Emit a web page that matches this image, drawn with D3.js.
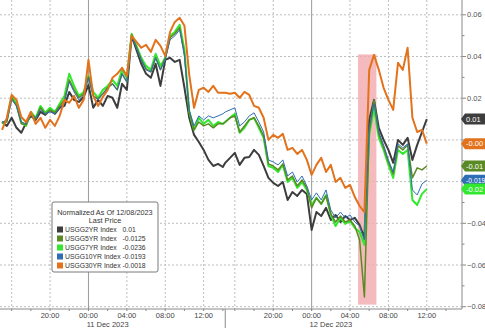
<!DOCTYPE html>
<html>
<head>
<meta charset="utf-8">
<script src="https://cdn.jsdelivr.net/npm/d3@7"></script>
<style>
  body { margin: 0; background: #fff; }
  svg { display: block; font-family: "Liberation Sans", Arial, sans-serif; }
</style>
</head>
<body>
<script>
// two trading sessions, 30 minute bars, the break between them is squeezed out
const sessions = [
  ['2023-12-10T15:00', '2023-12-11T14:00'],
  ['2023-12-11T15:00', '2023-12-12T12:00']
];
const gap = ['2023-12-11T14:15', '2023-12-11T15:00'];
const view = ['2023-12-10T14:47', '2023-12-12T15:40'];

const usgg2yr = [
  0.0086, 0.0067, 0.0106, 0.0058, 0.0034, 0.0082, 0.0115, 0.0096, 0.0134, 0.0120,
  0.0144, 0.0125, 0.0154, 0.0163, 0.0230, 0.0192, 0.0182, 0.0206, 0.0264, 0.0154,
  0.0192, 0.0163, 0.0211, 0.0202, 0.0154, 0.0269, 0.0240, 0.0499, 0.0432, 0.0365,
  0.0317, 0.0298, 0.0365, 0.0259, 0.0384, 0.0394, 0.0374, 0.0384, 0.0250, 0.0106,
  0.0024, -0.0010, -0.0048, -0.0096, -0.0125, -0.0115, -0.0130,
  -0.0110, -0.0086, -0.0062, -0.0120, -0.0086, -0.0082, -0.0048, -0.0072, -0.0125, -0.0182,
  -0.0206, -0.0221, -0.0202, -0.0288, -0.0250, -0.0269, -0.0240, -0.0259, -0.0432, -0.0346,
  -0.0365, -0.0326, -0.0384, -0.0360, -0.0394, -0.0365, -0.0384, -0.0374, -0.0408, -0.0470,
  0.0096, 0.0192, 0.0058, 0.0000, -0.0048, -0.0110, 0.0000, -0.0024, 0.0010, -0.0096,
  -0.0024, 0.0038, 0.0100
];
const usgg5yr = [
  0.0082, 0.0086, 0.0202, 0.0163, 0.0077, 0.0072, 0.0125, 0.0101, 0.0154, 0.0125,
  0.0144, 0.0130, 0.0163, 0.0192, 0.0288, 0.0240, 0.0202, 0.0221, 0.0302, 0.0211,
  0.0197, 0.0221, 0.0250, 0.0269, 0.0240, 0.0317, 0.0278, 0.0504, 0.0446, 0.0384,
  0.0341, 0.0326, 0.0394, 0.0336, 0.0394, 0.0490, 0.0509, 0.0538, 0.0413, 0.0134,
  0.0048, 0.0086, 0.0067, 0.0077, 0.0058, 0.0077, 0.0077,
  0.0086, 0.0106, 0.0115, 0.0038, 0.0067, 0.0096, 0.0106, 0.0067, 0.0019, -0.0115,
  -0.0125, -0.0144, -0.0115, -0.0192, -0.0173, -0.0221, -0.0192, -0.0230, -0.0326, -0.0278,
  -0.0307, -0.0269, -0.0355, -0.0394, -0.0365, -0.0394, -0.0384, -0.0413, -0.0480, -0.0753,
  0.0038, 0.0192, 0.0029, -0.0038, -0.0106, -0.0163, -0.0029, -0.0048, -0.0024, -0.0182,
  -0.0134, -0.0144, -0.0125
];
const usgg7yr = [
  0.0077, 0.0096, 0.0211, 0.0173, 0.0086, 0.0067, 0.0134, 0.0106, 0.0163, 0.0130,
  0.0154, 0.0134, 0.0173, 0.0211, 0.0317, 0.0259, 0.0211, 0.0230, 0.0307, 0.0230,
  0.0202, 0.0240, 0.0259, 0.0288, 0.0259, 0.0336, 0.0298, 0.0509, 0.0451, 0.0394,
  0.0355, 0.0336, 0.0413, 0.0355, 0.0394, 0.0499, 0.0518, 0.0552, 0.0432, 0.0134,
  0.0048, 0.0106, 0.0077, 0.0096, 0.0067, 0.0086, 0.0077,
  0.0086, 0.0106, 0.0125, 0.0034, 0.0058, 0.0096, 0.0106, 0.0058, 0.0010, -0.0125,
  -0.0134, -0.0154, -0.0120, -0.0202, -0.0182, -0.0230, -0.0202, -0.0240, -0.0312, -0.0278,
  -0.0307, -0.0264, -0.0360, -0.0413, -0.0374, -0.0403, -0.0389, -0.0422, -0.0442, -0.0504,
  0.0024, 0.0154, 0.0010, -0.0048, -0.0120, -0.0182, -0.0048, -0.0067, -0.0048, -0.0288,
  -0.0312, -0.0259, -0.0236
];
const usgg10yr = [
  0.0086, 0.0091, 0.0192, 0.0163, 0.0086, 0.0077, 0.0125, 0.0106, 0.0144, 0.0125,
  0.0134, 0.0125, 0.0154, 0.0182, 0.0278, 0.0230, 0.0192, 0.0216, 0.0298, 0.0211,
  0.0192, 0.0221, 0.0250, 0.0269, 0.0240, 0.0317, 0.0278, 0.0499, 0.0442, 0.0384,
  0.0336, 0.0326, 0.0394, 0.0336, 0.0384, 0.0480, 0.0499, 0.0528, 0.0403, 0.0144,
  0.0067, 0.0115, 0.0096, 0.0115, 0.0106, 0.0115, 0.0125,
  0.0134, 0.0144, 0.0154, 0.0067, 0.0086, 0.0115, 0.0130, 0.0086, 0.0038, -0.0096,
  -0.0106, -0.0120, -0.0096, -0.0173, -0.0154, -0.0202, -0.0173, -0.0221, -0.0288, -0.0254,
  -0.0288, -0.0240, -0.0336, -0.0374, -0.0346, -0.0374, -0.0360, -0.0394, -0.0413, -0.0480,
  0.0058, 0.0173, 0.0038, -0.0024, -0.0096, -0.0154, -0.0019, -0.0038, -0.0019, -0.0240,
  -0.0264, -0.0211, -0.0193
];
const usgg30yr = [
  0.0048, 0.0106, 0.0216, 0.0192, 0.0110, 0.0086, 0.0134, 0.0077, 0.0106, 0.0058,
  0.0096, 0.0067, 0.0115, 0.0192, 0.0178, 0.0211, 0.0154, 0.0192, 0.0384, 0.0211,
  0.0163, 0.0206, 0.0240, 0.0298, 0.0317, 0.0346, 0.0307, 0.0499, 0.0470, 0.0442,
  0.0456, 0.0422, 0.0480, 0.0451, 0.0403, 0.0518, 0.0566, 0.0586, 0.0547, 0.0312,
  0.0154, 0.0240, 0.0250, 0.0230, 0.0259, 0.0226, 0.0226,
  0.0226, 0.0221, 0.0226, 0.0202, 0.0230, 0.0216, 0.0163, 0.0154, 0.0106, 0.0000,
  0.0024, 0.0010, 0.0029, -0.0048, -0.0038, -0.0067, -0.0048, -0.0096, -0.0168, -0.0120,
  -0.0086, -0.0154, -0.0120, -0.0202, -0.0182, -0.0230, -0.0216, -0.0274, -0.0317, -0.0346,
  0.0336, 0.0408, 0.0336, 0.0250, 0.0192, 0.0144, 0.0370, 0.0336, 0.0442, 0.0106,
  0.0038, 0.0048, -0.0018
];

const seriesNames = ['USGG2YR Index', 'USGG5YR Index', 'USGG7YR Index', 'USGG10YR Index', 'USGG30YR Index'];
const lastPrices = ['0.01', '-0.0125', '-0.0236', '-0.0193', '-0.0018'];
const tagLabels = ['0.01', '-0.01', '-0.02', '-0.019', '-0.00'];
const colors = ['#3d3d3d', '#5a8a24', '#33e62e', '#2f6db5', '#e2721b'];
const widths = [2, 1.5, 2, 1, 2];
const drawOrder = [0, 2, 1, 3, 4];

const yTicks = [0.06, 0.04, 0.02, 0.00, -0.02, -0.04, -0.06, -0.08];
const yMinor = [0.05, 0.03, 0.01, -0.01, -0.03, -0.05, -0.07];
const dayLabels = [['2023-12-11T02:00', '11 Dec 2023'], ['2023-12-12T02:00', '12 Dec 2023']];
const shade = { from: '2023-12-12T04:50', to: '2023-12-12T06:45', top: 0.041, bottom: -0.079 };
const legendTitle = ['Normalized As Of 12/08/2023', 'Last Price'];

const parse = d3.timeParse('%Y-%m-%dT%H:%M');
const t0 = parse(sessions[0][0]);
const gapStart = parse(gap[0]), gapEnd = parse(gap[1]);
const gapHours = (gapEnd - gapStart) / 36e5;

// hours since the first bar, with the session break removed
const compress = t => {
  let h = (t - t0) / 36e5;
  if (t >= gapEnd) h -= gapHours;
  else if (t > gapStart) h = (gapStart - t0) / 36e5;
  return h;
};

const times = sessions.flatMap(([a, b]) =>
  d3.timeMinute.every(30).range(parse(a), d3.timeMinute.offset(parse(b), 1)));
const seriesValues = [usgg2yr, usgg5yr, usgg7yr, usgg10yr, usgg30yr];

const width = 485, height = 328;
const plotRight = 462, plotBottom = 309;

const svg = d3.select('body').append('svg')
  .attr('width', width).attr('height', height);

const x = d3.scaleLinear()
  .domain(view.map(s => compress(parse(s))))
  .range([0, plotRight]);
const y = d3.scaleLinear()
  .domain([-0.0811, 0.0671])
  .range([plotBottom, 0]);

// gridlines
const gridTimes = d3.timeHour.every(4).range(t0, parse(view[1]))
  .filter(t => t < gapStart || t >= gapEnd);

svg.append('g').selectAll('line').data(yTicks).join('line')
  .attr('x1', 0).attr('x2', plotRight)
  .attr('y1', d => y(d)).attr('y2', d => y(d))
  .attr('stroke', '#bdbdbd').attr('stroke-dasharray', '2,2');

svg.append('g').selectAll('line').data(gridTimes.filter(t => t.getHours() !== 0)).join('line')
  .attr('x1', d => x(compress(d))).attr('x2', d => x(compress(d)))
  .attr('y1', 0).attr('y2', plotBottom)
  .attr('stroke', '#bdbdbd').attr('stroke-dasharray', '2,2');

svg.append('g').selectAll('line').data(gridTimes.filter(t => t.getHours() === 0)).join('line')
  .attr('x1', d => x(compress(d))).attr('x2', d => x(compress(d)))
  .attr('y1', 0).attr('y2', plotBottom + 2)
  .attr('stroke', '#9a9a9a');

// shaded event window
svg.append('rect')
  .attr('x', x(compress(parse(shade.from))))
  .attr('width', x(compress(parse(shade.to))) - x(compress(parse(shade.from))))
  .attr('y', y(shade.top))
  .attr('height', y(shade.bottom) - y(shade.top))
  .attr('fill', '#f3a9ac').attr('opacity', 0.8);

// lines
const plot = svg.append('g');
svg.append('clipPath').attr('id', 'clip')
  .append('rect').attr('width', plotRight).attr('height', plotBottom);
plot.attr('clip-path', 'url(#clip)');

const line = d3.line()
  .x((d, i) => x(compress(times[i])))
  .y(d => y(d));

drawOrder.forEach(k => {
  plot.append('path')
    .datum(seriesValues[k])
    .attr('d', line)
    .attr('fill', 'none')
    .attr('stroke', colors[k])
    .attr('stroke-width', widths[k])
    .attr('stroke-linejoin', 'round');
});

// right axis
svg.append('line')
  .attr('x1', plotRight).attr('x2', plotRight)
  .attr('y1', 0).attr('y2', plotBottom)
  .attr('stroke', '#8a8a8a');

svg.append('g').selectAll('line').data(yTicks.concat(yMinor)).join('line')
  .attr('x1', plotRight).attr('x2', d => plotRight + (yTicks.includes(d) ? 4 : 2.5))
  .attr('y1', d => y(d)).attr('y2', d => y(d))
  .attr('stroke', '#8a8a8a');

// labels that sit under a last-value tag are hidden, as in the terminal view
const tagYs = seriesValues.map(s => y(s[s.length - 1]));
svg.append('g').selectAll('text')
  .data(yTicks.filter(d => tagYs.every(ty => Math.abs(ty - y(d)) > 8)))
  .join('text')
  .attr('x', plotRight + 5).attr('y', d => y(d))
  .attr('dy', '0.35em')
  .attr('font-size', 7.5).attr('fill', '#555')
  .text(d3.format('.2f'));

// bottom axis
svg.append('line')
  .attr('x1', 0).attr('x2', plotRight)
  .attr('y1', plotBottom).attr('y2', plotBottom)
  .attr('stroke', '#8a8a8a');

const minorTimes = d3.timeHour.every(2).range(t0, parse(view[1]))
  .filter(t => t < gapStart || t >= gapEnd);
svg.append('g').selectAll('line').data(minorTimes).join('line')
  .attr('x1', d => x(compress(d))).attr('x2', d => x(compress(d)))
  .attr('y1', plotBottom).attr('y2', plotBottom + 2)
  .attr('stroke', '#8a8a8a');

svg.append('line')
  .attr('x1', x(compress(gapStart))).attr('x2', x(compress(gapStart)))
  .attr('y1', plotBottom).attr('y2', height)
  .attr('stroke', '#8a8a8a');

svg.append('g').selectAll('text').data(gridTimes.filter(t => t.getHours() !== 16)).join('text')
  .attr('x', d => x(compress(d))).attr('y', 318)
  .attr('text-anchor', 'middle')
  .attr('font-size', 7.5).attr('fill', '#444')
  .text(d3.timeFormat('%H:%M'));

svg.append('g').selectAll('text').data(dayLabels).join('text')
  .attr('x', d => x(compress(parse(d[0])))).attr('y', 327)
  .attr('text-anchor', 'middle')
  .attr('font-size', 7.5).attr('fill', '#444')
  .text(d => d[1]);

// last value tags
const tags = svg.append('g');
[0, 4, 1, 3, 2].forEach(k => {
  const ty = tagYs[k];
  tags.append('path')
    .attr('d', `M${plotRight - 1},${ty} L${plotRight + 3},${ty - 5.5} L${width + 2},${ty - 5.5} L${width + 2},${ty + 5.5} L${plotRight + 3},${ty + 5.5} Z`)
    .attr('fill', colors[k]);
  tags.append('text')
    .attr('x', plotRight + 4).attr('y', ty)
    .attr('dy', '0.35em')
    .attr('font-size', tagLabels[k].length > 5 ? 6.8 : 7.5).attr('fill', '#fff')
    .text(tagLabels[k]);
});

// legend
const legend = svg.append('g').attr('transform', 'translate(52,202)');
legend.append('rect')
  .attr('width', 106).attr('height', 70).attr('rx', 2)
  .attr('fill', '#fff').attr('stroke', '#7a7a7a');
legend.selectAll('text.title').data(legendTitle).join('text')
  .attr('class', 'title')
  .attr('x', 53).attr('y', (d, i) => 12.5 + i * 8.8)
  .attr('text-anchor', 'middle')
  .attr('font-size', 7.3).attr('fill', '#333')
  .text(d => d);
const rows = legend.selectAll('g.row').data(seriesNames).join('g')
  .attr('class', 'row')
  .attr('transform', (d, i) => `translate(0, ${27.5 + i * 9})`);
rows.append('rect')
  .attr('x', 5).attr('y', -3).attr('width', 6).attr('height', 6)
  .attr('fill', (d, i) => colors[i]);
rows.append('text')
  .attr('x', 13).attr('dy', '0.35em')
  .attr('font-size', 6.8).attr('fill', '#333')
  .text(d => d);
rows.append('text')
  .attr('x', 70.5).attr('dy', '0.35em')
  .attr('font-size', 6.8).attr('fill', '#333')
  .text((d, i) => lastPrices[i]);
</script>
</body>
</html>
